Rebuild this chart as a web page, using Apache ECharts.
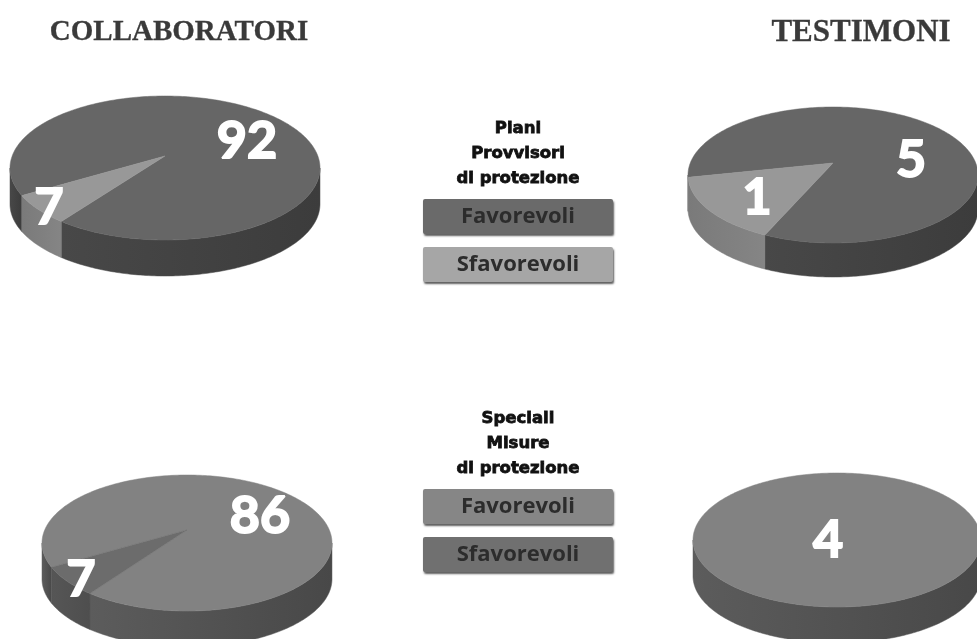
<!DOCTYPE html>
<html><head><meta charset="utf-8">
<style>html,body{margin:0;padding:0;background:#fff}#c{width:977px;height:639px}</style>
<script src="https://cdn.jsdelivr.net/npm/echarts@6/dist/echarts.min.js"></script>
</head><body><div id="c"></div>
<script>
// data
var groupTitles = ['COLLABORATORI', 'TESTIMONI'];
var legendLabels = ['Favorevoli', 'Sfavorevoli'];
var headingPiani = 'Piani\nProvvisori\ndi protezione';
var headingSpeciali = 'Speciali\nMisure\ndi protezione';
var collaboratoriPiani = [92, 7];
var testimoniPiani = [5, 1];
var collaboratoriSpeciali = [86, 7];
var testimoniSpeciali = [4];

var colDarkA = {top:'#666666', sideL:'#484848', sideR:'#3c3c3c'};
var colLightA = {top:'#989898', sideL:'#7a7a7a', sideR:'#858585'};
var colMainB = {top:'#828282', sideL:'#5c5c5c', sideR:'#484848'};
var colDarkB = {top:'#6c6c6c', sideL:'#565656', sideR:'#4e4e4e'};

// layout of each drawn pie (pixels); start = rim angle where the first-laid slice begins
var pies = [
  {name:'Collaboratori piani', values:collaboratoriPiani, cx:165, cy:168, rx:155, ry:72, depth:36, apexDy:-12, start:132, order:[1,0], colors:[colDarkA,colLightA], labels:[[247,141,52],[49,208,50]]},
  {name:'Testimoni piani', values:testimoniPiani, cx:833, cy:175, rx:145, ry:68, depth:34, apexDy:-12, start:118, order:[1,0], colors:[colDarkA,colLightA], labels:[[911,160,52],[757,198,50]]},
  {name:'Collaboratori speciali', values:collaboratoriSpeciali, cx:187, cy:543, rx:145, ry:68, depth:36, apexDy:-13, start:132, order:[1,0], colors:[colMainB,colDarkB], labels:[[260,516,52],[81,580,50]]},
  {name:'Testimoni speciali', values:testimoniSpeciali, cx:837, cy:540, rx:144, ry:67, depth:36, apexDy:0, start:0, order:[0], colors:[colMainB], labels:[[828,540,52]]}
];

var labelFont = 'Lato, "Noto Sans", sans-serif';
var D2R = Math.PI/180;

function sliceAngles(p){
  var total = p.values.reduce(function(a,b){return a+b;},0);
  var out = [], a = p.start;
  p.order.forEach(function(i){
    var sweep = p.values[i]/total*360;
    out[i] = [a, a+sweep];
    a += sweep;
  });
  return out;
}
function rim(p,a,dy){
  return [p.cx+p.rx*Math.cos(a*D2R), p.cy+p.ry*Math.sin(a*D2R)+(dy||0)];
}
function renderPie(p){
  var ang = sliceAngles(p);
  return function(params, api){
    var i = params.dataIndex, a = ang[i], c = p.colors[i], kids = [];
    var pts = [];
    if(a[1]-a[0] < 359.9) pts.push([p.cx, p.cy+p.apexDy]);
    for(var t=a[0]; t<a[1]; t+=1) pts.push(rim(p,t));
    pts.push(rim(p,a[1]));
    // side walls: the rim parts facing the viewer (rim angle 0..180, modulo 360)
    var lo = Math.floor(a[0]/360)*360;
    for(var k=lo; k<a[1]; k+=360){
      var s0 = Math.max(a[0],k), s1 = Math.min(a[1],k+180);
      if(s1<=s0) continue;
      var seg=[];
      for(var s=s0; s<s1; s+=1) seg.push(s);
      seg.push(s1);
      var poly = seg.map(function(q){return rim(p,q);})
        .concat(seg.slice().reverse().map(function(q){return rim(p,q,p.depth);}));
      kids.push({type:'polygon', z2:1, shape:{points:poly}, style:{
        fill:new echarts.graphic.LinearGradient(0,0,1,0,[{offset:0,color:c.sideL},{offset:1,color:c.sideR}]),
        stroke:c.sideL, lineWidth:0.5
      }});
    }
    kids.push({type:'polygon', z2:2, shape:{points:pts}, style:{fill:c.top, stroke:c.top, lineWidth:0.5}});
    var l = p.labels[i];
    kids.push({type:'text', z2:3, x:l[0], y:l[1], style:{
      text:String(api.value(0)), font:'bold '+l[2]+'px '+labelFont,
      fill:'#fff', stroke:'#fff', lineWidth:2, align:'center', verticalAlign:'middle',
      shadowColor:'rgba(0,0,0,0.5)', shadowBlur:3
    }});
    return {type:'group', children:kids};
  };
}

var series = pies.map(function(p){
  return {type:'custom', name:p.name, coordinateSystem:'none', silent:true, animation:false,
    data:p.values.map(function(v,i){return [v,i];}), renderItem:renderPie(p)};
});

function swatch(y,fill,label){
  return {type:'group', children:[
    {type:'rect', shape:{x:423,y:y,width:190,height:35,r:2}, style:{fill:fill,shadowColor:'rgba(40,40,40,0.75)',shadowBlur:2,shadowOffsetX:1,shadowOffsetY:2}},
    {type:'text', x:518, y:y+18, style:{text:label,font:'bold 22px "Open Sans", sans-serif',fill:'#2c2c2c',align:'center',verticalAlign:'middle'}}
  ]};
}
function heading(y,text){
  return {type:'text', x:518, y:y, style:{text:text,font:'bold 16.5px "DejaVu Sans", sans-serif',lineHeight:25,fill:'#111',stroke:'#111',lineWidth:0.8,align:'center',verticalAlign:'top'}};
}
function bigTitle(x,size,text){
  return {type:'text', x:x, y:33, style:{text:text,font:'bold '+size+'px "Liberation Serif", serif',fill:'#3a3a3a',stroke:'#3a3a3a',lineWidth:0.3,align:'center',verticalAlign:'middle'}};
}

var chart = echarts.init(document.getElementById('c'), null, {renderer:'canvas'});
chart.setOption({
  backgroundColor:'#ffffff',
  animation:false,
  series:series,
  graphic:{elements:[
    bigTitle(179,29,groupTitles[0]), bigTitle(861,31,groupTitles[1]),
    heading(116,headingPiani), swatch(199,'#6a6a6a',legendLabels[0]), swatch(247,'#a6a6a6',legendLabels[1]),
    heading(406,headingSpeciali), swatch(489,'#868686',legendLabels[0]), swatch(537,'#707070',legendLabels[1])
  ]}
});
</script></body></html>
